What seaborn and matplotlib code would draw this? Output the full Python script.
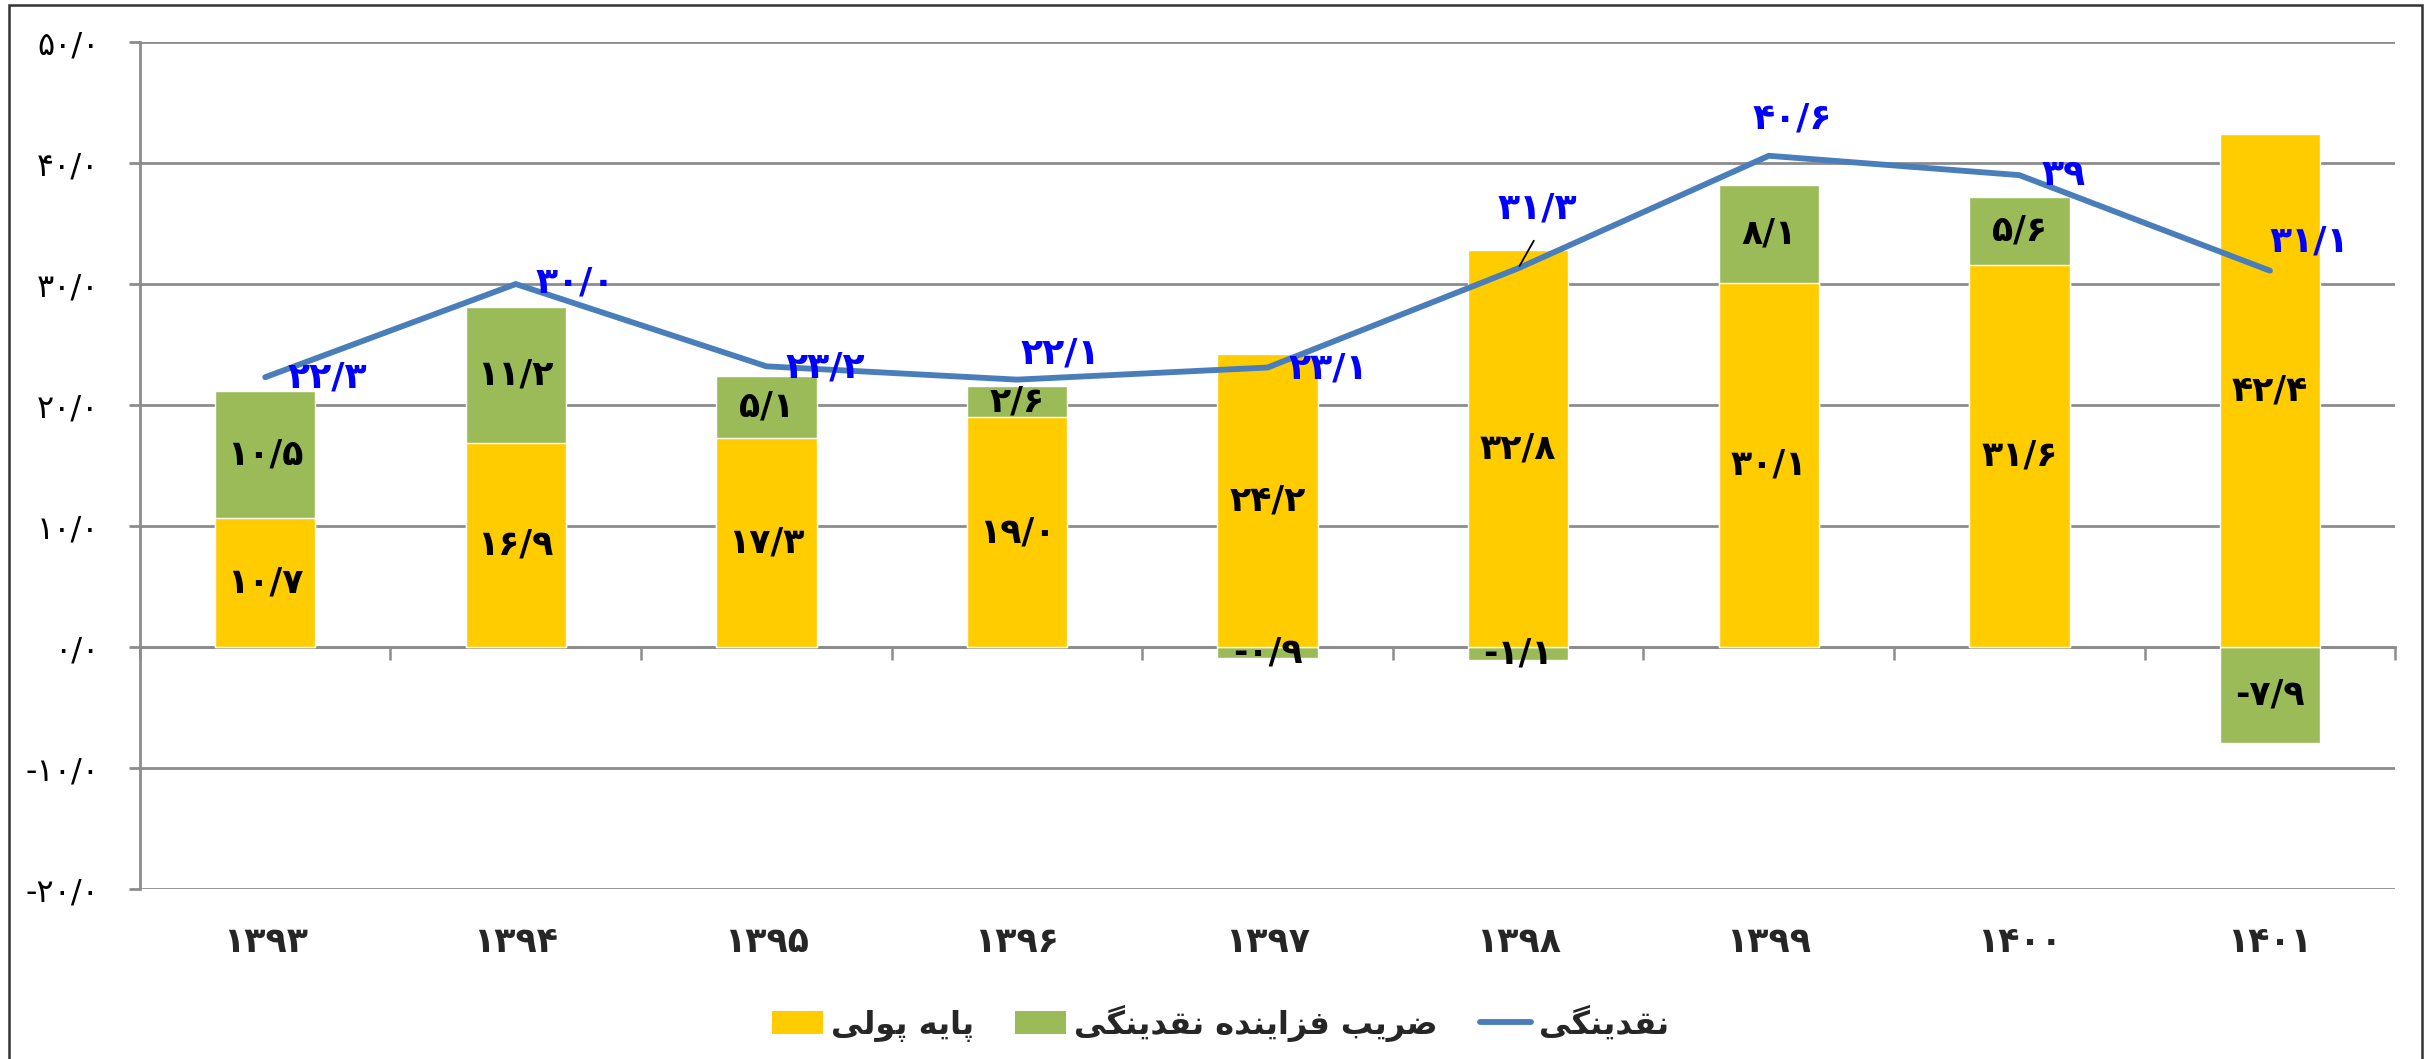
import numpy as np
import pandas as pd
import matplotlib
matplotlib.use("Agg")
import matplotlib.pyplot as plt
from matplotlib.patches import Rectangle
from matplotlib.lines import Line2D
from matplotlib.patches import Patch
import seaborn as sns

# ---------------- data ----------------
years = [1393, 1394, 1395, 1396, 1397, 1398, 1399, 1400, 1401]
base_money = [10.7, 16.9, 17.3, 19.0, 24.2, 32.8, 30.1, 31.6, 42.4]
multiplier = [10.5, 11.2, 5.1, 2.6, -0.9, -1.1, 8.1, 5.6, -7.9]
liquidity = [22.3, 30.0, 23.2, 22.1, 23.1, 31.3, 40.6, 39, 31.1]
y_ticks = [-20.0, -10.0, 0.0, 10.0, 20.0, 30.0, 40.0, 50.0]
label_base = "پایه پولی"
label_mult = "ضریب فزاینده نقدینگی"
label_liq = "نقدینگی"

# ---------------- helpers ----------------
FA = str.maketrans("0123456789.", "۰۱۲۳۴۵۶۷۸۹/")


def fa_num(v, fmt="{:.1f}"):
    s = fmt.format(v) if isinstance(v, float) else str(v)
    return s.translate(FA)


FORMS = {
    'ا': ('\uFE8D', '\uFE8E', None, None),
    'ب': ('\uFE8F', '\uFE90', '\uFE91', '\uFE92'),
    'پ': ('\uFB56', '\uFB57', '\uFB58', '\uFB59'),
    'د': ('\uFEA9', '\uFEAA', None, None),
    'ر': ('\uFEAD', '\uFEAE', None, None),
    'ز': ('\uFEAF', '\uFEB0', None, None),
    'ض': ('\uFEBD', '\uFEBE', '\uFEBF', '\uFEC0'),
    'ف': ('\uFED1', '\uFED2', '\uFED3', '\uFED4'),
    'ق': ('\uFED5', '\uFED6', '\uFED7', '\uFED8'),
    'گ': ('\uFB92', '\uFB93', '\uFB94', '\uFB95'),
    'ل': ('\uFEDD', '\uFEDE', '\uFEDF', '\uFEE0'),
    'ن': ('\uFEE5', '\uFEE6', '\uFEE7', '\uFEE8'),
    'ه': ('\uFEE9', '\uFEEA', '\uFEEB', '\uFEEC'),
    'و': ('\uFEED', '\uFEEE', None, None),
    'ی': ('\uFBFC', '\uFBFD', '\uFBFE', '\uFBFF'),
}


def shape(s):
    """Contextual shaping + visual (RTL) ordering for display."""
    out = []
    n = len(s)
    for i, c in enumerate(s):
        if c not in FORMS:
            out.append(c)
            continue
        f = FORMS[c]
        prev = s[i - 1] if i > 0 else None
        nxt = s[i + 1] if i < n - 1 else None
        jp = prev in FORMS and FORMS[prev][2] is not None
        jn = f[2] is not None and nxt in FORMS
        if jp and jn:
            g = f[3]
        elif jp:
            g = f[1]
        elif jn:
            g = f[2]
        else:
            g = f[0]
        out.append(g)
    return "".join(reversed(out))


# ---------------- style ----------------
sns.set_style("white")
plt.rcParams["font.family"] = ["DejaVu Sans"]

YELLOW = "#FFCC00"
GREEN = "#9BBB59"
BLUE = "#4A7EBB"
GRID = "#8C8C8C"

fig = plt.figure(figsize=(24.33, 10.59), dpi=100)
ax = fig.add_axes([0.0575, 0.1605, 0.927, 0.7998])

df = pd.DataFrame({"year": [fa_num(y) for y in years],
                   "base": base_money, "mult": multiplier, "liq": liquidity})
# stacked tops: positive multiplier stacks on the base, negative hangs below zero
df["green_top"] = [b + m if m > 0 else m for b, m in zip(base_money, multiplier)]

sns.barplot(data=df, x="year", y="green_top", color=GREEN, width=0.4,
            saturation=1, ax=ax, zorder=3)
sns.barplot(data=df, x="year", y="base", color=YELLOW, width=0.4,
            saturation=1, ax=ax, zorder=3)

pos = np.arange(len(years))
sns.lineplot(x=pos, y=liquidity, color=BLUE, linewidth=4.2, ax=ax,
             zorder=5, solid_joinstyle="miter")

ax.set_ylim(-20, 50)
ax.set_xlim(-0.5, len(years) - 0.5)
ax.set_yticks(y_ticks)
ax.set_yticklabels([fa_num(v) for v in y_ticks], fontsize=23)
ax.grid(axis="y", color=GRID, linewidth=2, zorder=0)
ax.grid(axis="x", visible=False)
ax.set_axisbelow(True)
ax.set_xlabel("")
ax.set_ylabel("")

for s in ["top", "right"]:
    ax.spines[s].set_visible(False)
ax.spines["left"].set_color(GRID)
ax.spines["left"].set_linewidth(2)
ax.spines["bottom"].set_position(("data", 0))
ax.spines["bottom"].set_color(GRID)
ax.spines["bottom"].set_linewidth(2)

ax.tick_params(axis="y", left=True, length=8, width=2, color=GRID, pad=21,
               labelcolor="black")
ax.set_xticks(pos)
ax.set_xticklabels([fa_num(y) for y in years], fontsize=25, fontweight="bold")
ax.tick_params(axis="x", which="major", bottom=True, length=0, pad=200)
ax.set_xticks(np.arange(len(years) + 1) - 0.5, minor=True)
ax.tick_params(axis="x", which="minor", bottom=True, length=9, width=1.8,
               color=GRID, direction="out")

# bar segment labels
for i, (b, m) in enumerate(zip(base_money, multiplier)):
    ax.text(i, b / 2, fa_num(b), ha="center", va="center", fontsize=25,
            fontweight="bold", color="black", zorder=6)
    ym = b + m / 2 if m > 0 else m / 2
    ax.text(i, ym, fa_num(m), ha="center", va="center", fontsize=25,
            fontweight="bold", color="black", zorder=6)

# liquidity labels (pixel offsets from the point)
offsets = [(62, 0), (59, -2), (59, 1), (43, -26), (61, 1), (19, -60),
           (23, -37), (44, 0), (39, -29)]
for i, v in enumerate(liquidity):
    dx, dy = offsets[i]
    ax.annotate(fa_num(v), xy=(i, v), xytext=(dx, -dy),
                textcoords="offset pixels", ha="center", va="center",
                fontsize=26, fontweight="bold", color="#0000FF", zorder=7)
# leader line for 1398
ax.annotate("", xy=(5, liquidity[5]), xytext=(17, 30), textcoords="offset pixels",
            arrowprops=dict(arrowstyle="-", color="black", lw=1.3), zorder=7)

handles = [Patch(facecolor=YELLOW, edgecolor="none"),
           Patch(facecolor=GREEN, edgecolor="none"),
           Line2D([0], [0], color=BLUE, linewidth=4.2, solid_capstyle="round")]
labels = [shape(label_base), shape(label_mult), shape(label_liq)]
leg = fig.legend(handles, labels, loc="center", bbox_to_anchor=(0.5015, 0.034),
                 ncol=3, frameon=False, prop={"size": 23, "weight": "bold"},
                 handlelength=1.6, handleheight=0.7, handletextpad=0.25,
                 columnspacing=1.3)

# outer frame
fig.add_artist(Rectangle((9 / 2433, -0.05), (2422 - 9) / 2433, 1.05 - 5 / 1059,
                         transform=fig.transFigure, fill=False,
                         edgecolor="#333333", linewidth=1.8))

fig.savefig("out.png", dpi=100)
